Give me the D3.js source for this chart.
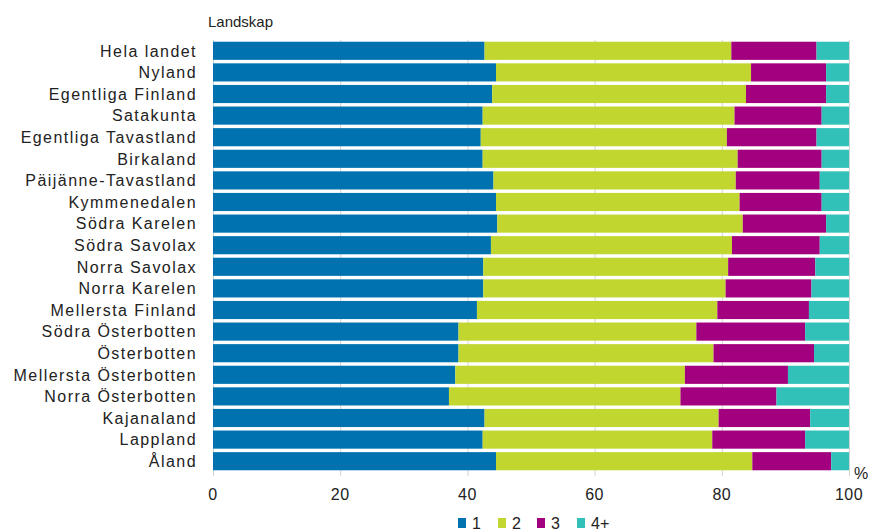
<!DOCTYPE html>
<html>
<head>
<meta charset="utf-8">
<script src="https://cdn.jsdelivr.net/npm/d3@7"></script>
<style>
  body { margin: 0; background: #fff; }
  svg text { font-family: "Liberation Sans", Arial, sans-serif; fill: #222; }
</style>
</head>
<body>
<svg id="chart"></svg>
<script>
// regions, top to bottom
var regions = ["Hela landet", "Nyland", "Egentliga Finland", "Satakunta", "Egentliga Tavastland",
    "Birkaland", "Päijänne-Tavastland", "Kymmenedalen", "Södra Karelen", "Södra Savolax",
    "Norra Savolax", "Norra Karelen", "Mellersta Finland", "Södra Österbotten", "Österbotten",
    "Mellersta Österbotten", "Norra Österbotten", "Kajanaland", "Lappland", "Åland"];

var seriesNames = ["1", "2", "3", "4+"];

// share (%) per group size
var s1 = [42.7, 44.5, 43.9, 42.4, 42.1, 42.4, 44.1, 44.5, 44.7, 43.7, 42.5, 42.5, 41.5, 38.6, 38.6, 38.1, 37.1, 42.7, 42.4, 44.5];
var s2 = [38.8, 40.1, 39.9, 39.6, 38.7, 40.1, 38.1, 38.3, 38.6, 37.9, 38.5, 38.1, 37.8, 37.4, 40.1, 36.1, 36.4, 36.8, 36.1, 40.3];
var s3 = [13.4, 11.8, 12.6, 13.7, 14.1, 13.2, 13.2, 12.9, 13.1, 13.8, 13.7, 13.5, 14.4, 17.1, 15.8, 16.2, 15.1, 14.4, 14.6, 12.4];
var s4 = [5.1, 3.6, 3.6, 4.3, 5.1, 4.3, 4.6, 4.3, 3.6, 4.6, 5.3, 5.9, 6.3, 6.9, 5.5, 9.6, 11.4, 6.1, 6.9, 2.8];

var xTicks = [0, 20, 40, 60, 80, 100];

var colors = ["#0072b0", "#c1d72f", "#a2007e", "#32c1b8"];

var svgWidth = 871,
    svgHeight = 530,
    plotLeft = 213,
    plotRight = 849,
    plotTop = 40,
    plotBottom = 472;

var svg = d3.select("#chart")
    .attr("width", svgWidth)
    .attr("height", svgHeight);

var table = regions.map(function (r, i) {
    return { region: r, "1": s1[i], "2": s2[i], "3": s3[i], "4+": s4[i] };
});

var stacked = d3.stack().keys(seriesNames)(table);

var x = d3.scaleLinear().domain([0, 100]).range([plotLeft, plotRight]);
var y = d3.scaleBand().domain(regions).range([plotTop, plotBottom]).paddingInner(0.16).paddingOuter(0.08);
var color = d3.scaleOrdinal().domain(seriesNames).range(colors);

// grid + ticks
svg.append("g")
    .selectAll("line")
    .data(xTicks)
    .enter()
    .append("line")
    .attr("x1", function (d) { return x(d) + 0.5; })
    .attr("x2", function (d) { return x(d) + 0.5; })
    .attr("y1", plotTop)
    .attr("y2", plotBottom + 4)
    .attr("stroke", "#d4d4d4")
    .attr("stroke-width", 1);

// bars
svg.append("g")
    .selectAll("g")
    .data(stacked)
    .enter()
    .append("g")
    .attr("fill", function (d) { return color(d.key); })
    .selectAll("rect")
    .data(function (d) { return d; })
    .enter()
    .append("rect")
    .attr("x", function (d) { return x(d[0]); })
    .attr("width", function (d) { return x(d[1]) - x(d[0]); })
    .attr("y", function (d) { return y(d.data.region); })
    .attr("height", y.bandwidth());

// category labels
svg.append("g")
    .selectAll("text")
    .data(regions)
    .enter()
    .append("text")
    .attr("x", 197)
    .attr("y", function (d) { return y(d) + y.bandwidth() / 2; })
    .attr("dy", "0.36em")
    .attr("text-anchor", "end")
    .attr("font-size", 16)
    .attr("letter-spacing", 1.45)
    .text(function (d) { return d; });

// x tick labels
svg.append("g")
    .selectAll("text")
    .data(xTicks)
    .enter()
    .append("text")
    .attr("x", function (d) { return x(d); })
    .attr("y", 500)
    .attr("text-anchor", "middle")
    .attr("font-size", 16)
    .attr("letter-spacing", 0.5)
    .text(function (d) { return d; });

svg.append("text")
    .attr("x", 208)
    .attr("y", 27)
    .attr("font-size", 15)
    .text("Landskap");

svg.append("text")
    .attr("x", 854)
    .attr("y", 479)
    .attr("font-size", 16)
    .attr("fill", "#555")
    .text("%");

// legend
var legendX = [458, 498, 537, 577];
var legend = svg.append("g")
    .selectAll("g")
    .data(seriesNames)
    .enter()
    .append("g")
    .attr("transform", function (d, i) { return "translate(" + legendX[i] + ",516)"; });

legend.append("rect")
    .attr("y", 2)
    .attr("width", 8)
    .attr("height", 10)
    .attr("fill", function (d) { return color(d); });

legend.append("text")
    .attr("x", 14)
    .attr("y", 12.5)
    .attr("font-size", 16)
    .text(function (d) { return d; });
</script>
</body>
</html>
